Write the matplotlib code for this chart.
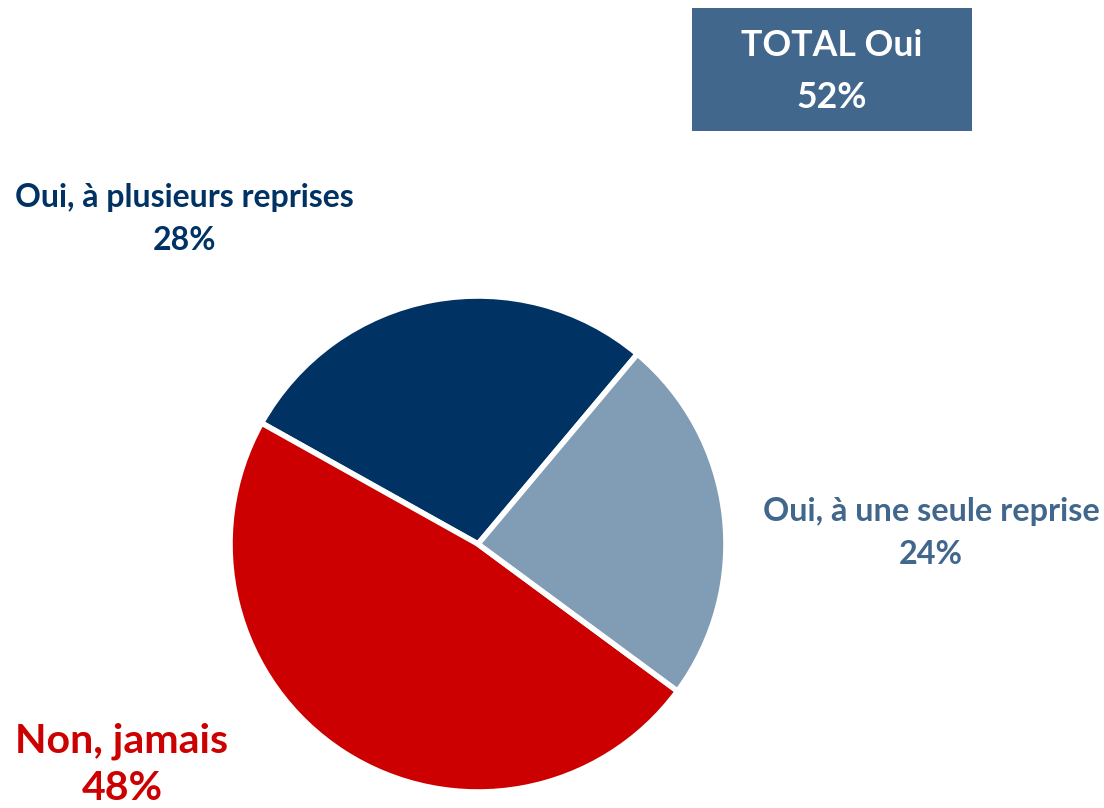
import matplotlib.pyplot as plt
from matplotlib.patches import Rectangle

# data
labels = ["Oui, à plusieurs reprises", "Non, jamais", "Oui, à une seule reprise"]
values = [28, 48, 24]
colors = ["#003263", "#CC0000", "#819CB5"]
total_label = "TOTAL Oui"
total_value = 52

W, H = 1104, 808
fig = plt.figure(figsize=(W / 100, H / 100), dpi=100)
ax = fig.add_axes([0, 0, 1, 1])
ax.set_xlim(0, W)
ax.set_ylim(0, H)
ax.set_axis_off()

ax.pie(values, colors=colors, startangle=50, counterclock=True,
       center=(478, H - 544), radius=248,
       wedgeprops=dict(edgecolor="white", linewidth=4))
ax.set_xlim(0, W)
ax.set_ylim(0, H)
ax.set_aspect("equal")

font = "Lato"

# labels
ax.text(184, H - 197, labels[0], ha="center", va="center", fontsize=23,
        fontweight="bold", color="#003263", family=font)
ax.text(184, H - 241, f"{values[0]}%", ha="center", va="center", fontsize=23,
        fontweight="bold", color="#003263", family=font)

ax.text(122, H - 741, labels[1], ha="center", va="center", fontsize=29.5,
        fontweight="bold", color="#CC0000", family=font)
ax.text(122, H - 788, f"{values[1]}%", ha="center", va="center", fontsize=29.5,
        fontweight="bold", color="#CC0000", family=font)

ax.text(931, H - 512, labels[2], ha="center", va="center", fontsize=23.3,
        fontweight="bold", color="#41678C", family=font)
ax.text(931, H - 554, f"{values[2]}%", ha="center", va="center", fontsize=23.3,
        fontweight="bold", color="#41678C", family=font)

# total box
ax.add_patch(Rectangle((692, H - 131), 280, 123, facecolor="#41678C", edgecolor="none"))
ax.text(832, H - 45, total_label, ha="center", va="center", fontsize=25.7,
        fontweight="bold", color="white", family=font)
ax.text(832, H - 97, f"{total_value}%", ha="center", va="center", fontsize=25.7,
        fontweight="bold", color="white", family=font)

fig.savefig("out.png", dpi=100)
